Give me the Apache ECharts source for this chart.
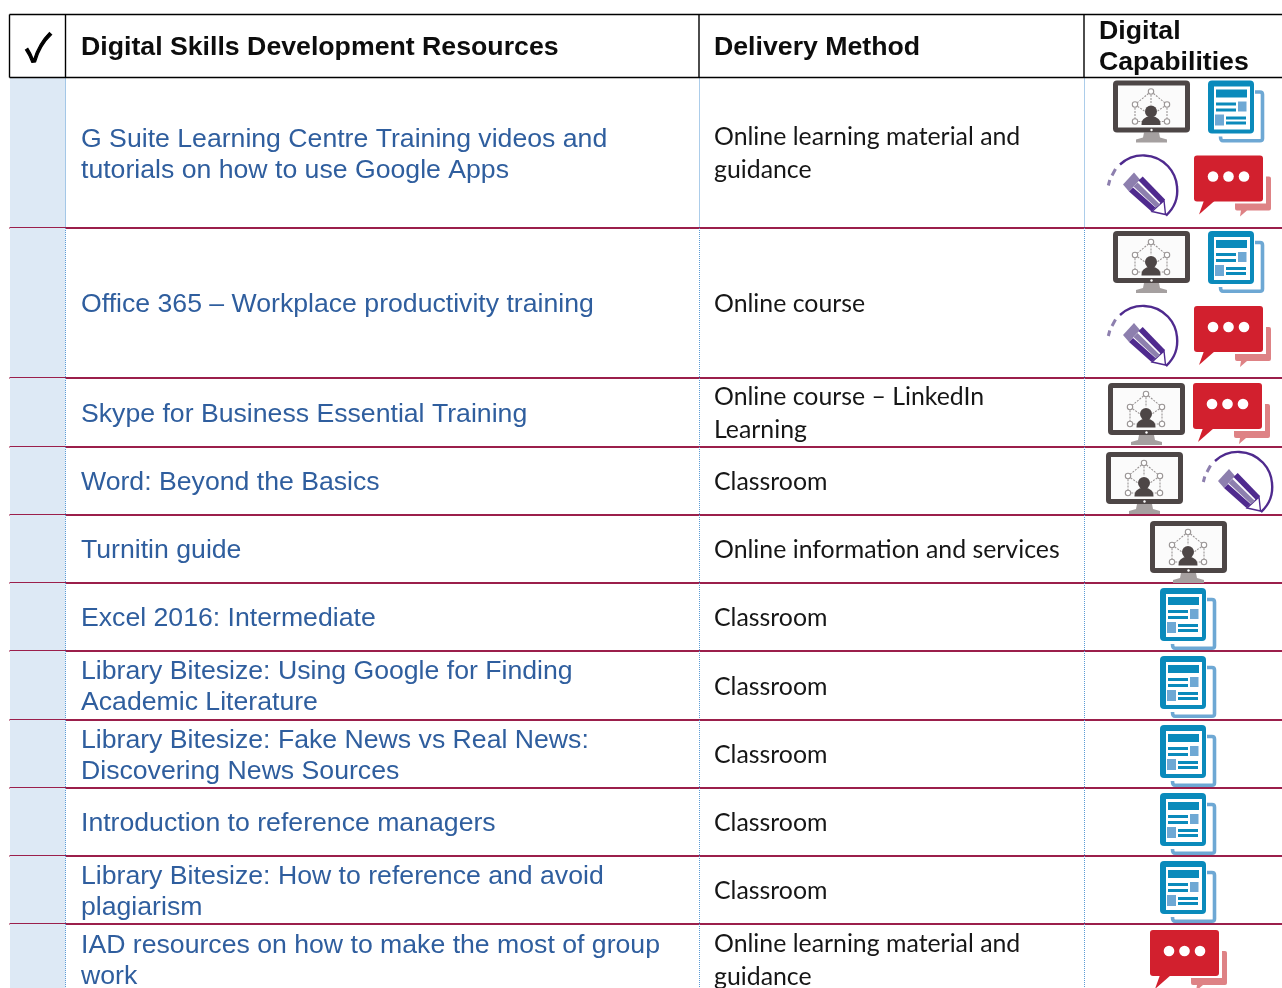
<!DOCTYPE html>
<html>
<head>
<meta charset="utf-8">
<style>html,body{margin:0;padding:0;background:#fff}#main{width:1282px;height:988px}</style>
<script src="https://cdn.jsdelivr.net/npm/echarts@6/dist/echarts.min.js"></script>
</head>
<body>
<div id="main"></div>
<script>
var headers = ['Digital Skills Development Resources', 'Delivery Method', 'Digital\nCapabilities'];
var resources = [
    'G Suite Learning Centre Training videos and\ntutorials on how to use Google Apps',
    'Office 365 – Workplace productivity training',
    'Skype for Business Essential Training',
    'Word: Beyond the Basics',
    'Turnitin guide',
    'Excel 2016: Intermediate',
    'Library Bitesize: Using Google for Finding\nAcademic Literature',
    'Library Bitesize: Fake News vs Real News:\nDiscovering News Sources',
    'Introduction to reference managers',
    'Library Bitesize: How to reference and avoid\nplagiarism',
    'IAD resources on how to make the most of group\nwork'
];
var delivery = [
    'Online learning material and\nguidance',
    'Online course',
    'Online course – LinkedIn\nLearning',
    'Classroom',
    'Online information and services',
    'Classroom',
    'Classroom',
    'Classroom',
    'Classroom',
    'Classroom',
    'Online learning material and\nguidance'
];
var capabilities = [
    ['monitor', 'news', 'pencil', 'bubble'],
    ['monitor', 'news', 'pencil', 'bubble'],
    ['monitor', 'bubble'],
    ['monitor', 'pencil'],
    ['monitor'],
    ['news'],
    ['news'],
    ['news'],
    ['news'],
    ['news'],
    ['bubble']
];
// pixel scale of the page: column and row edges
var columnEdges = [9.5, 65.5, 699, 1084, 1282];
var rowEdges = [77.5, 228, 378, 447, 515, 583, 651, 720, 788, 856, 924, 994];

var BLUE_TEXT = '#2f5e9e', GREY_TEXT = '#161616', RULE = '#9b1f4b', SHADE = '#dde9f5', DOT = '#5b9bd5';
var sansFont = '"Liberation Sans", Arial, sans-serif';
var bodyFont = 'Lato, "Noto Sans", sans-serif';

function rect(x, y, w, h, fill, r) {
    return { type: 'rect', shape: { x: x, y: y, width: w, height: h, r: r || 0 }, style: { fill: fill } };
}
function path(d, style) {
    return { type: 'path', shape: { pathData: d }, style: style };
}
function circle(cx, cy, r, style) {
    return { type: 'circle', shape: { cx: cx, cy: cy, r: r }, style: style };
}

function monitorIcon() {
    var dark = '#4d4646', stand = '#a5a0a0', net = '#9a9595';
    var kids = [
        path('M31 52 H46 L47 57 L54 59 V62 H23 V59 L30 57 Z', { fill: stand }),
        rect(0, 0, 77, 52, dark, 4),
        rect(5, 5, 67, 42, '#fbfbfb'),
        circle(38.5, 49.5, 1.2, { fill: '#fff' })
    ];
    var lineStyle = { fill: null, stroke: net, lineWidth: 1.1, lineDash: [2, 1.2] };
    kids.push(path('M38 11 L22 24 M38 11 L54 24 M38 11 V24 M22 24 V41 M54 24 V41 M22 24 L32 31 M54 24 L44 31 M22 41 L29 41 M54 41 L47 41', lineStyle));
    [[38, 11], [22, 24], [54, 24], [22, 41], [54, 41]].forEach(function (n) {
        kids.push(circle(n[0], n[1], 2.7, { fill: '#fff', stroke: net, lineWidth: 1.1 }));
    });
    kids.push(circle(38, 31, 6, { fill: dark }));
    kids.push(path('M28.5 44.5 C28.5 39 31 37.5 35 36 H41 C45 37.5 47.5 39 47.5 44.5 Z', { fill: dark }));
    return kids;
}

function newsIcon() {
    var main = '#0a8abb', light = '#6ea8d4';
    return [
        path('M47 11.5 H52 Q54.5 11.5 54.5 14 V58 Q54.5 60.3 52 60.3 H15 Q12.5 60.3 12.5 56', { fill: null, stroke: light, lineWidth: 3.6 }),
        rect(0, 0, 46, 53, main, 4),
        rect(6, 6, 36, 43, '#fff'),
        rect(8, 9, 31, 8, main),
        rect(8, 22, 20, 3, main),
        rect(8, 28, 20, 3, main),
        rect(30, 21, 8.5, 10, light),
        rect(7, 34, 9, 11, light),
        rect(18, 36, 20, 3, main),
        rect(18, 41, 20, 3, main)
    ];
}

function pencilIcon() {
    var dark = '#4f2a8e', pale = '#8d7fae';
    return [
        path('M13 9 A34 34 0 0 1 70 31 A34 34 0 0 1 59 60', { fill: null, stroke: dark, lineWidth: 2.4 }),
        path('M8.5 13.5 L5 20 M2.8 24.5 L1.3 30', { fill: null, stroke: pale, lineWidth: 3 }),
        path('M16 29 L27 17 L33 24 L22 36 Z', { fill: pale }),
        path('M45 56 L58.5 59 L57 45 Z', { fill: '#fff', stroke: dark, lineWidth: 1.4 }),
        path('M22 36 L26 32 L48.5 52 L44.5 56 Z', { fill: dark }),
        path('M26.5 31 L30.5 27 L53 49 L49 52 Z', { fill: pale }),
        path('M31.5 25 L35.7 21 L58 44 L54 48 Z', { fill: dark })
    ];
}

function bubbleIcon() {
    var red = '#d2202e', light = '#de8285';
    return [
        path('M72 21 H75 Q77 21 77 23 V53 Q77 55 75 55 H53 L46 61 L47 55 H43 Q41 55 41 53 V48 H72 Z', { fill: light }),
        rect(0, 0, 69, 46, red, 3),
        path('M10 45 H21 L5 59 Z', { fill: red }),
        circle(19, 21, 5.3, { fill: '#fff' }),
        circle(34.5, 21, 5.3, { fill: '#fff' }),
        circle(50, 21, 5.3, { fill: '#fff' })
    ];
}

var iconMakers = { monitor: monitorIcon, news: newsIcon, pencil: pencilIcon, bubble: bubbleIcon };

// where each icon sits, measured from the cell's top left corner
function iconOffsets(row, list) {
    if (list.length === 4) return [[29, 3], [124, 3], [23, 78], [110, 78]];
    if (row === 2) return [[24, 5], [109, 5]];
    if (row === 3) return [[22, 5], [118, 5]];
    if (list[0] === 'news') return [[76, 5]];
    return [[66, 6]];
}

function cellText(pos, text, font, fill, lineHeight) {
    return {
        type: 'text',
        x: pos[0],
        y: pos[1],
        style: { text: text, font: font, fill: fill, lineHeight: lineHeight, align: 'left', verticalAlign: 'middle' }
    };
}

function renderHeader(params, api) {
    var top = api.coord([0, 14.5])[1], bottom = api.coord([0, rowEdges[0]])[1];
    var left = api.coord([columnEdges[0], 0])[0], right = api.coord([columnEdges[4], 0])[0];
    var midY = (top + bottom) / 2;
    var lineStyle = { stroke: '#000', lineWidth: 1.4 };
    var kids = [
        { type: 'line', shape: { x1: left, y1: top, x2: right, y2: top }, style: lineStyle },
        { type: 'line', shape: { x1: left, y1: bottom, x2: right, y2: bottom }, style: lineStyle }
    ];
    columnEdges.slice(0, 4).forEach(function (edge) {
        var x = api.coord([edge, 0])[0];
        kids.push({ type: 'line', shape: { x1: x, y1: top, x2: x, y2: bottom }, style: lineStyle });
    });
    kids.push({
        type: 'text', x: (left + api.coord([columnEdges[1], 0])[0]) / 2 + 1, y: midY + 2,
        style: { text: '✓', font: '38px "Noto Sans CJK SC"', fill: '#000', stroke: '#000', lineWidth: 1.2, align: 'center', verticalAlign: 'middle' }
    });
    var bold = 'bold 26.7px ' + sansFont;
    kids.push(cellText([api.coord([columnEdges[1], 0])[0] + 15.5, midY + 2], headers[0], bold, '#0d0d0d'));
    kids.push(cellText([api.coord([columnEdges[2], 0])[0] + 15, midY + 2], headers[1], bold, '#0d0d0d'));
    kids.push(cellText([api.coord([columnEdges[3], 0])[0] + 15, midY + 1], headers[2], bold, '#0d0d0d', 31));
    return { type: 'group', children: kids };
}

function renderRow(params, api) {
    var row = api.value(0);
    var top = api.coord([0, rowEdges[row]])[1], bottom = api.coord([0, rowEdges[row + 1]])[1];
    var midY = (top + bottom) / 2;
    var xs = columnEdges.map(function (edge) { return api.coord([edge, 0])[0]; });
    var kids = [rect(xs[0] + 0.5, top, xs[1] - xs[0] - 0.5, bottom - top, SHADE)];
    [xs[1], xs[2] + 0.5, xs[3] + 0.5].forEach(function (x) {
        kids.push({ type: 'line', shape: { x1: x, y1: top, x2: x, y2: bottom }, style: { stroke: DOT, lineWidth: 1, lineDash: [1, 1] } });
    });
    kids.push({ type: 'line', shape: { x1: xs[0], y1: bottom, x2: xs[4], y2: bottom }, style: { stroke: RULE, lineWidth: 2 } });
    kids.push(cellText([xs[1] + 15.5, midY + 2], resources[row], '26.65px ' + sansFont, BLUE_TEXT, 31));
    kids.push(cellText([xs[2] + 15, midY + 1], delivery[row], '24.85px ' + bodyFont, GREY_TEXT, 33));
    var list = capabilities[row], offsets = iconOffsets(row, list);
    list.forEach(function (name, i) {
        kids.push({ type: 'group', x: xs[3] + offsets[i][0], y: top + offsets[i][1], children: iconMakers[name]() });
    });
    return { type: 'group', children: kids };
}

var myChart = echarts.init(document.getElementById('main'));
myChart.setOption({
    animation: false,
    grid: { left: 0, right: 0, top: 0, bottom: 0 },
    xAxis: { type: 'value', min: 0, max: 1282, show: false },
    yAxis: { type: 'value', min: 0, max: 988, inverse: true, show: false },
    series: [
        { type: 'custom', silent: true, clip: false, coordinateSystem: 'cartesian2d', renderItem: renderRow,
          data: resources.map(function (r, i) { return [i, i]; }), encode: { x: 0, y: 1 } },
        { type: 'custom', silent: true, clip: false, coordinateSystem: 'cartesian2d', renderItem: renderHeader,
          data: [[0, 0]], encode: { x: 0, y: 1 } }
    ]
});
</script>
</body>
</html>
